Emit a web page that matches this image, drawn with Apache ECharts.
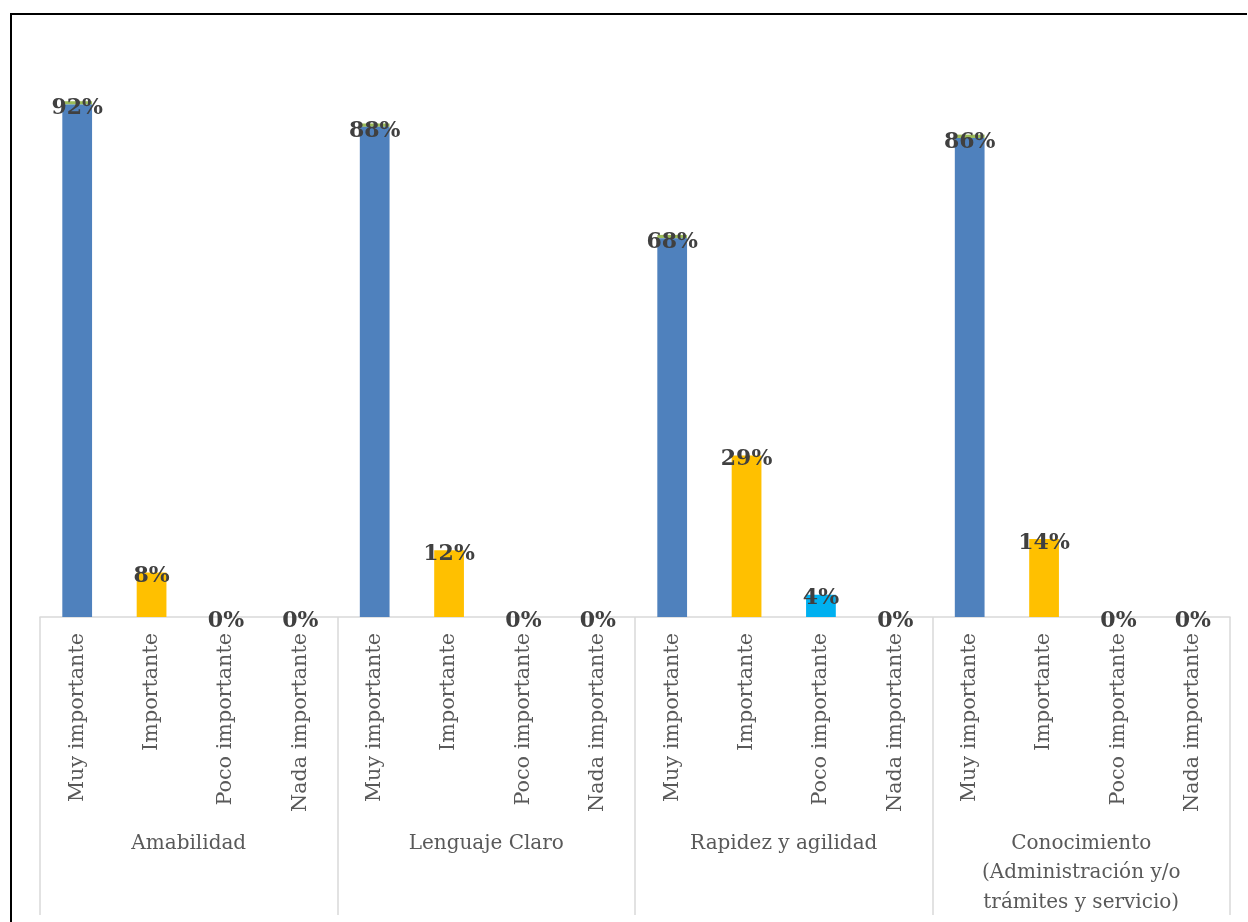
<!DOCTYPE html>
<html>
<head>
<meta charset="utf-8">
<script src="https://cdn.jsdelivr.net/npm/echarts@6/dist/echarts.min.js"></script>
<style>
html,body{margin:0;padding:0;background:#fff;}
#chart{width:1248px;height:922px;}
</style>
</head>
<body>
<div id="chart"></div>
<script>
// ---- data ----
const groups = ['Amabilidad', 'Lenguaje Claro', 'Rapidez y agilidad', 'Conocimiento\n(Administración y/o\ntrámites y servicio)'];
const levels = ['Muy importante', 'Importante', 'Poco importante', 'Nada importante'];
const muyImportante  = [92, 88, 68, 86];
const importante     = [8, 12, 29, 14];
const pocoImportante = [0, 0, 4, 0];
const nadaImportante = [0, 0, 0, 0];
const capMuy = [0.6, 0.6, 0.6, 0.6];   // thin green top strip seen on the blue bars
const levelColors = ['#4f81bd', '#ffc000', '#00b0f0', '#a5a5a5'];
const capColor = '#9bbb59';

// ---- build ----
const byLevel = [muyImportante, importante, pocoImportante, nadaImportante];
const cats = [], mainData = [], capData = [];
groups.forEach((g, gi) => {
  levels.forEach((lv, li) => {
    cats.push(lv);
    mainData.push({ value: byLevel[li][gi], itemStyle: { color: levelColors[li] } });
    capData.push(li === 0 ? capMuy[gi] : 0);
  });
});

const chart = echarts.init(document.getElementById('chart'), null, { renderer: 'canvas' });
const serif = '"DejaVu Serif", serif';
chart.setOption({
  animation: false,
  backgroundColor: '#ffffff',
  grid: { left: 40, right: 18, top: 60, bottom: 305, containLabel: false },
  xAxis: [
    {
      type: 'category',
      data: cats,
      position: 'bottom',
      axisLine: { show: true, lineStyle: { color: '#d9d9d9', width: 1.5 } },
      axisTick: { show: false },
      axisLabel: {
        interval: 0, rotate: 90, margin: 16,
        fontFamily: serif, fontSize: 20.7, color: '#595959'
      }
    },
    {
      type: 'category',
      data: groups,
      position: 'bottom',
      offset: 0,
      axisLine: { show: false },
      axisTick: { show: true, length: 298, interval: 0, lineStyle: { color: '#d9d9d9', width: 1.5 } },
      axisLabel: {
        interval: 0, margin: 212, lineHeight: 29.5,
        fontFamily: serif, fontSize: 20, color: '#595959', align: 'center'
      }
    }
  ],
  yAxis: { type: 'value', min: 0, max: 100, show: false, splitLine: { show: false } },
  series: [
    {
      type: 'bar', stack: 'a', data: mainData, barWidth: '40%', xAxisIndex: 0,
      label: {
        show: true, position: 'top', distance: -15,
        formatter: '{c}%', fontFamily: serif, fontWeight: 'bold', fontSize: 22, color: '#404040'
      },
      z: 2
    },
    {
      type: 'bar', stack: 'a', data: capData, barWidth: '40%', xAxisIndex: 0,
      itemStyle: { color: capColor }, label: { show: false }, z: 1, silent: true
    }
  ],
  graphic: [
    { type: 'line', shape: { x1: 11, y1: 14, x2: 1247, y2: 14 }, style: { stroke: '#000', lineWidth: 2 } },
    { type: 'line', shape: { x1: 11, y1: 13, x2: 11, y2: 922 }, style: { stroke: '#000', lineWidth: 2 } }
  ]
});
</script>
</body>
</html>
